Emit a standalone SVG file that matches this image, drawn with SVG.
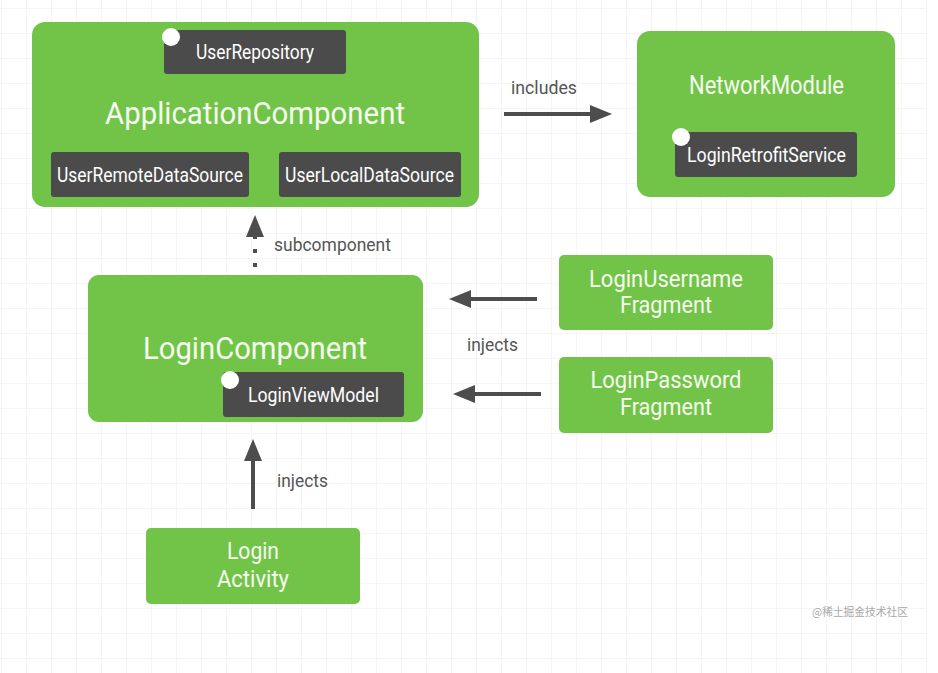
<svg xmlns="http://www.w3.org/2000/svg" width="938" height="673" viewBox="0 0 938 673">
<defs>
<pattern id="grid" x="1" y="8" width="25" height="25" patternUnits="userSpaceOnUse">
<path d="M0 0 H25 M0 0 V25" fill="none" stroke="#ececec" stroke-width="1"/>
</pattern>
<marker id="ah" viewBox="0 0 22 18" refX="0" refY="9" markerWidth="22" markerHeight="18" markerUnits="userSpaceOnUse" orient="auto">
<path d="M0 0 L22 9 L0 18 Z" fill="#4d4d4d"/>
</marker>
</defs>
<style>
.g{fill:#72c449}
.d{fill:#4b4b4b}
.dot{fill:#ffffff}
.t{font-family:Roboto,"Liberation Sans",sans-serif;fill:#f6fbef;text-anchor:middle}
.s{font-family:Roboto,"Liberation Sans",sans-serif;fill:#ffffff;text-anchor:middle;font-size:20px}
.lbl{font-family:Roboto,"Liberation Sans",sans-serif;fill:#555555;font-size:18px}
.c{stroke:#4d4d4d;stroke-width:4;fill:none}
</style>
<rect width="938" height="673" fill="#ffffff"/>
<rect x="0" y="0" width="927" height="673" fill="url(#grid)"/>

<g id="connectors">
<line class="c" x1="504" y1="114" x2="590" y2="114" marker-end="url(#ah)"/>
<line class="c" x1="255" y1="267" x2="255" y2="237" stroke-dasharray="4 10" marker-end="url(#ah)"/>
<line class="c" x1="537" y1="299" x2="471" y2="299" marker-end="url(#ah)"/>
<line class="c" x1="541" y1="394" x2="475" y2="394" marker-end="url(#ah)"/>
<line class="c" x1="253" y1="509" x2="253" y2="461" marker-end="url(#ah)"/>
<text class="lbl" x="511" y="94" textLength="66" lengthAdjust="spacingAndGlyphs">includes</text>
<text class="lbl" x="274" y="251" textLength="117" lengthAdjust="spacingAndGlyphs">subcomponent</text>
<text class="lbl" x="467" y="351" textLength="51" lengthAdjust="spacingAndGlyphs">injects</text>
<text class="lbl" x="277" y="487" textLength="51" lengthAdjust="spacingAndGlyphs">injects</text>
</g>

<g id="ApplicationComponent">
<rect class="g" x="32" y="22" width="447" height="185" rx="13"/>
<rect class="d" x="164" y="30" width="182" height="44" rx="3"/>
<circle class="dot" cx="171" cy="37" r="9"/>
<text class="s" x="255" y="59" textLength="118" lengthAdjust="spacingAndGlyphs">UserRepository</text>
<text class="t" x="255" y="124" font-size="31" textLength="300" lengthAdjust="spacingAndGlyphs">ApplicationComponent</text>
<rect class="d" x="51" y="152" width="198" height="45" rx="3"/>
<text class="s" x="150" y="182" textLength="186" lengthAdjust="spacingAndGlyphs">UserRemoteDataSource</text>
<rect class="d" x="279" y="152" width="182" height="45" rx="3"/>
<text class="s" x="369.5" y="182" textLength="169" lengthAdjust="spacingAndGlyphs">UserLocalDataSource</text>
</g>

<g id="NetworkModule">
<rect class="g" x="637" y="31" width="258" height="166" rx="13"/>
<text class="t" x="766.5" y="94" font-size="25" textLength="155" lengthAdjust="spacingAndGlyphs">NetworkModule</text>
<rect class="d" x="675" y="132" width="182" height="45" rx="3"/>
<circle class="dot" cx="681" cy="137" r="9"/>
<text class="s" x="766.5" y="162" textLength="159" lengthAdjust="spacingAndGlyphs">LoginRetrofitService</text>
</g>

<g id="LoginComponent">
<rect class="g" x="88" y="275" width="335" height="147" rx="11"/>
<text class="t" x="255" y="359" font-size="31" textLength="224" lengthAdjust="spacingAndGlyphs">LoginComponent</text>
<rect class="d" x="223" y="372" width="181" height="45" rx="3"/>
<circle class="dot" cx="230" cy="380" r="9"/>
<text class="s" x="313.5" y="402" textLength="131" lengthAdjust="spacingAndGlyphs">LoginViewModel</text>
</g>

<g id="LoginUsernameFragment">
<rect class="g" x="559" y="255" width="214" height="75" rx="5"/>
<text class="t" x="666" y="287" font-size="23" textLength="154" lengthAdjust="spacingAndGlyphs">LoginUsername</text>
<text class="t" x="666" y="313" font-size="23" textLength="92" lengthAdjust="spacingAndGlyphs">Fragment</text>
</g>

<g id="LoginPasswordFragment">
<rect class="g" x="559" y="357" width="214" height="76" rx="5"/>
<text class="t" x="666" y="388" font-size="23" textLength="151" lengthAdjust="spacingAndGlyphs">LoginPassword</text>
<text class="t" x="666" y="415" font-size="23" textLength="92" lengthAdjust="spacingAndGlyphs">Fragment</text>
</g>

<g id="LoginActivity">
<rect class="g" x="146" y="528" width="214" height="76" rx="5"/>
<text class="t" x="253" y="559" font-size="23" textLength="52" lengthAdjust="spacingAndGlyphs">Login</text>
<text class="t" x="253" y="587" font-size="23" textLength="72" lengthAdjust="spacingAndGlyphs">Activity</text>
</g>

<text x="812" y="616" font-family="'Noto Sans CJK SC',sans-serif" font-size="11" fill="#a8a8a8" textLength="96" lengthAdjust="spacingAndGlyphs">@稀土掘金技术社区</text>
</svg>
